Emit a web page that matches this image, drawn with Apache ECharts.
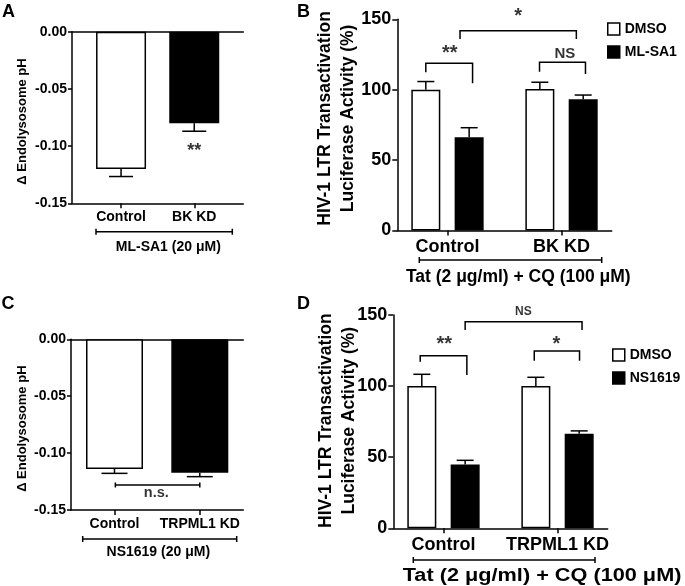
<!DOCTYPE html>
<html><head><meta charset="utf-8">
<script src="https://cdn.jsdelivr.net/npm/echarts@6/dist/echarts.min.js"></script>
<style>html,body{margin:0;padding:0;background:#fff}#c{width:685px;height:586px}</style>
</head><body><div id="c"></div>
<script>
// ---------- DATA ----------
// Panel A
const catsA = ['Control', 'BK KD'];
const phA = [-0.120, -0.080];
const semA = [0.0066, 0.0070];
// Panel B
const catsB = ['Control', 'BK KD'];
const dmsoB = [100, 100.5];
const dmsoSemB = [5.8, 4.8];
const mlsa1B = [66.2, 93.2];
const mlsa1SemB = [6.8, 3.0];
// Panel C
const catsC = ['Control', 'TRPML1 KD'];
const phC = [-0.1140, -0.1172];
const semC = [0.0038, 0.0035];
// Panel D
const catsD = ['Control', 'TRPML1 KD'];
const dmsoD = [100, 100];
const dmsoSemD = [8.3, 6.2];
const nsD = [44.8, 66.5];
const nsSemD = [3.0, 2.0];
// Axis ticks
const yTicksPH = [-0.15, -0.10, -0.05, 0.00];
const yTicksLuc = [0, 50, 100, 150];
// Significance annotations: [x1, x2, yTop, yLeftEnd, yRightEnd]
const bracketsB = [[0.81, 1.22, 118.8, 112.4, 104.5], [1.807, 2.21, 119.5, 112.8, 111.2], [1.11, 2.13, 141.9, 136, 136]];
const starsB = [{x: 1.02, y: 125.9, t: '**', s: 20}, {x: 2.03, y: 125.4, t: 'NS', s: 15}, {x: 1.62, y: 152.3, t: '*', s: 20}];
const bracketsD = [[0.796, 1.205, 121.4, 117.2, 107.8], [1.796, 2.193, 124.7, 117.9, 117.9], [1.19, 2.215, 145.3, 139.5, 139.5]];
const starsD = [{x: 1.006, y: 129.4, t: '**', s: 20}, {x: 1.99, y: 129.6, t: '*', s: 20}, {x: 1.70, y: 152.3, t: 'NS', s: 12}];
const starsA = [{x: 2, y: -0.1040, t: '**', s: 18}];
const nsBarC = [[1.01, 2.0, -0.128]];
const starsC = [{x: 1.49, y: -0.1353, t: 'n.s.', s: 14.5}];

// ---------- HELPERS ----------
const FONT = '"Liberation Sans", Arial, Helvetica, sans-serif';
const LW = 1.5;
const axisLineStyle = {color: '#000', width: LW};
const groupOffset = 0.19;

function errRender(capW) {
  return function (params, api) {
    const x = api.value(0), v = api.value(1), e = api.value(2);
    const s = v < 0 ? -1 : 1;
    const p1 = api.coord([x, v]);
    const p2 = api.coord([x, v + s * e]);
    return {type: 'group', children: [
      {type: 'line', shape: {x1: p1[0], y1: p1[1], x2: p2[0], y2: p2[1]}, style: {stroke: '#000', lineWidth: LW}},
      {type: 'line', shape: {x1: p2[0] - capW / 2, y1: p2[1], x2: p2[0] + capW / 2, y2: p2[1]}, style: {stroke: '#000', lineWidth: LW}}
    ]};
  };
}
function bracketRender(params, api) {
  const x1 = api.value(0), x2 = api.value(1), yt = api.value(2), yl = api.value(3), yr = api.value(4);
  const a = api.coord([x1, yl]), b = api.coord([x1, yt]), c = api.coord([x2, yt]), d = api.coord([x2, yr]);
  return {type: 'polyline', shape: {points: [a, b, c, d]}, style: {stroke: '#000', fill: 'none', lineWidth: LW}};
}
function flatBracketRender(params, api) {
  const a = api.coord([api.value(0), api.value(2)]), b = api.coord([api.value(1), api.value(2)]);
  const h = 2.5;
  return {type: 'group', children: [
    {type: 'line', shape: {x1: a[0], y1: a[1], x2: b[0], y2: b[1]}, style: {stroke: '#000', lineWidth: LW}},
    {type: 'line', shape: {x1: a[0], y1: a[1] - h, x2: a[0], y2: a[1] + h}, style: {stroke: '#000', lineWidth: LW}},
    {type: 'line', shape: {x1: b[0], y1: b[1] - h, x2: b[0], y2: b[1] + h}, style: {stroke: '#000', lineWidth: LW}}
  ]};
}
function textSeries(gi, arr) {
  return {type: 'scatter', xAxisIndex: gi.x, yAxisIndex: gi.y, symbolSize: 0, clip: false, silent: true, z: 5,
    data: arr.map(o => ({value: [o.x, o.y], label: {show: true, position: 'inside', formatter: o.t, fontSize: o.s,
      fontWeight: 'bold', fontFamily: FONT, color: '#000'}}))};
}
function yAxisDef(grid, min, max, interval, fs, fmt, name, gap, pad, lh) {
  return {gridIndex: grid, type: 'value', min: min, max: max, interval: interval,
    axisLine: {show: true, onZero: false, lineStyle: axisLineStyle},
    axisTick: {show: true, length: fs > 15 ? 5 : 4, lineStyle: axisLineStyle},
    axisLabel: {fontSize: fs, fontWeight: 'bold', fontFamily: FONT, color: '#000', margin: fs > 15 ? 6 : 5, formatter: fmt},
    splitLine: {show: false},
    name: name, nameLocation: 'middle', nameGap: gap, nameRotate: 90, nameMoveOverlap: false,
    nameTextStyle: {fontSize: fs > 15 ? 17.5 : 13, fontWeight: 'bold', fontFamily: FONT, color: '#000', lineHeight: lh, padding: pad}};
}
function xAxisDef(grid, min, max, cats, fs, margin, pos, showTicks) {
  return {gridIndex: grid, type: 'value', min: min, max: max, position: pos,
    axisLine: {show: true, onZero: false, lineStyle: axisLineStyle},
    axisTick: showTicks ? {show: true, length: 5, lineStyle: axisLineStyle, customValues: [1, 2]} : {show: false},
    axisLabel: showTicks ? {show: true, customValues: [1, 2], formatter: v => cats[Math.round(v) - 1] || '',
      fontSize: fs, fontWeight: 'bold', fontFamily: FONT, color: '#000', margin: margin} : {show: false},
    splitLine: {show: false}};
}
const fmtPH = v => v.toFixed(2);
const fmtLuc = v => String(Math.round(v));

const barBase = {type: 'bar', barGap: '-100%', itemStyle: {borderColor: '#000', borderWidth: LW}};

const option = {
  animation: false,
  backgroundColor: '#fff',
  grid: [
    {left: 72, top: 31.7, width: 171.3, height: 171.6},
    {left: 397.3, top: 19.3, width: 214.4, height: 211.2},
    {left: 71, top: 339.3, width: 172.3, height: 170.7},
    {left: 393.3, top: 315, width: 214.4, height: 213.3}
  ],
  xAxis: [
    xAxisDef(0, 0.33, 2.67, catsA, 14, 7, 'bottom', true),   // 0
    xAxisDef(0, 0.33, 2.67, catsA, 14, 7, 'top', false),     // 1
    xAxisDef(1, 0.56, 2.44, catsB, 18, 8, 'bottom', true),   // 2
    xAxisDef(2, 0.49, 2.51, catsC, 14, 7, 'bottom', true),   // 3
    xAxisDef(2, 0.49, 2.51, catsC, 14, 7, 'top', false),     // 4
    xAxisDef(3, 0.56, 2.44, catsD, 18, 8, 'bottom', true)    // 5
  ],
  yAxis: [
    yAxisDef(0, yTicksPH[0], yTicksPH[3], 0.05, 14, fmtPH, 'Δ Endolysosome pH', 42, [0, 8, 0, 0], 16),
    yAxisDef(1, yTicksLuc[0], yTicksLuc[3], 50, 18, fmtLuc, 'HIV-1 LTR Transactivation\nLuciferase Activity (%)', 38, [0, 0, 0, 13], 23),
    yAxisDef(2, yTicksPH[0], yTicksPH[3], 0.05, 14, fmtPH, 'Δ Endolysosome pH', 41, [0, 8, 0, 0], 16),
    yAxisDef(3, yTicksLuc[0], yTicksLuc[3], 50, 18, fmtLuc, 'HIV-1 LTR Transactivation\nLuciferase Activity (%)', 32.5, [0, 0, 0, 2], 23)
  ],
  legend: [
    {orient: 'vertical', left: 607, top: 22, padding: 0, itemWidth: 12, itemHeight: 12, itemGap: 9, icon: 'rect',
      selectedMode: false, data: ['DMSO', 'ML-SA1'],
      itemStyle: {borderColor: '#000', borderWidth: LW},
      textStyle: {fontSize: 14, fontWeight: 'bold', fontFamily: FONT, color: '#000'}},
    {orient: 'vertical', left: 612, top: 348, padding: 0, itemWidth: 12, itemHeight: 12, itemGap: 9, icon: 'rect',
      selectedMode: false, data: ['DMSO', 'NS1619'],
      itemStyle: {borderColor: '#000', borderWidth: LW},
      textStyle: {fontSize: 14, fontWeight: 'bold', fontFamily: FONT, color: '#000'}}
  ],
  series: [
    // Panel A
    Object.assign({}, barBase, {name: 'A', xAxisIndex: 0, yAxisIndex: 0, barWidth: 50,
      data: phA.map((v, i) => ({value: [i + 1, v], itemStyle: {color: i === 0 ? '#fff' : '#000'}}))}),
    {type: 'custom', xAxisIndex: 0, yAxisIndex: 0, renderItem: errRender(24), encode: {x: 0, y: 1}, z: 3,
      data: phA.map((v, i) => [i + 1, v, semA[i]])},
    textSeries({x: 0, y: 0}, starsA),
    // Panel B
    Object.assign({}, barBase, {name: 'DMSO', xAxisIndex: 2, yAxisIndex: 1, barWidth: 29, itemStyle: {color: '#fff', borderColor: '#000', borderWidth: LW},
      data: dmsoB.map((v, i) => [i + 1 - groupOffset, v])}),
    Object.assign({}, barBase, {name: 'ML-SA1', xAxisIndex: 2, yAxisIndex: 1, barWidth: 29, itemStyle: {color: '#000', borderColor: '#000', borderWidth: LW},
      data: mlsa1B.map((v, i) => [i + 1 + groupOffset, v])}),
    {type: 'custom', xAxisIndex: 2, yAxisIndex: 1, renderItem: errRender(17), encode: {x: 0, y: 1}, z: 3,
      data: dmsoB.map((v, i) => [i + 1 - groupOffset, v, dmsoSemB[i]]).concat(mlsa1B.map((v, i) => [i + 1 + groupOffset, v, mlsa1SemB[i]]))},
    {type: 'custom', xAxisIndex: 2, yAxisIndex: 1, renderItem: bracketRender, encode: {x: [0, 1], y: [2, 3, 4]}, z: 4, clip: false,
      data: bracketsB},
    textSeries({x: 2, y: 1}, starsB),
    // Panel C
    Object.assign({}, barBase, {name: 'C', xAxisIndex: 3, yAxisIndex: 2, barWidth: 57,
      data: phC.map((v, i) => ({value: [i + 1, v], itemStyle: {color: i === 0 ? '#fff' : '#000'}}))}),
    {type: 'custom', xAxisIndex: 3, yAxisIndex: 2, renderItem: errRender(26), encode: {x: 0, y: 1}, z: 3,
      data: phC.map((v, i) => [i + 1, v, semC[i]])},
    {type: 'custom', xAxisIndex: 3, yAxisIndex: 2, renderItem: flatBracketRender, encode: {x: [0, 1], y: 2}, z: 4,
      data: nsBarC},
    textSeries({x: 3, y: 2}, starsC),
    // Panel D
    Object.assign({}, barBase, {name: 'DMSO', xAxisIndex: 5, yAxisIndex: 3, barWidth: 29, itemStyle: {color: '#fff', borderColor: '#000', borderWidth: LW},
      data: dmsoD.map((v, i) => [i + 1 - groupOffset, v])}),
    Object.assign({}, barBase, {name: 'NS1619', xAxisIndex: 5, yAxisIndex: 3, barWidth: 29, itemStyle: {color: '#000', borderColor: '#000', borderWidth: LW},
      data: nsD.map((v, i) => [i + 1 + groupOffset, v])}),
    {type: 'custom', xAxisIndex: 5, yAxisIndex: 3, renderItem: errRender(17), encode: {x: 0, y: 1}, z: 3,
      data: dmsoD.map((v, i) => [i + 1 - groupOffset, v, dmsoSemD[i]]).concat(nsD.map((v, i) => [i + 1 + groupOffset, v, nsSemD[i]]))},
    {type: 'custom', xAxisIndex: 5, yAxisIndex: 3, renderItem: bracketRender, encode: {x: [0, 1], y: [2, 3, 4]}, z: 4, clip: false,
      data: bracketsD},
    textSeries({x: 5, y: 3}, starsD)
  ],
  graphic: [
    // panel letters
    {type: 'text', x: 2, y: 12.5, style: {text: 'A', fontSize: 18, fontWeight: 'bold', fontFamily: FONT, fill: '#000', verticalAlign: 'middle'}},
    {type: 'text', x: 297, y: 12.5, style: {text: 'B', fontSize: 18, fontWeight: 'bold', fontFamily: FONT, fill: '#000', verticalAlign: 'middle'}},
    {type: 'text', x: 1.5, y: 304, style: {text: 'C', fontSize: 18, fontWeight: 'bold', fontFamily: FONT, fill: '#000', verticalAlign: 'middle'}},
    {type: 'text', x: 297, y: 304, style: {text: 'D', fontSize: 18, fontWeight: 'bold', fontFamily: FONT, fill: '#000', verticalAlign: 'middle'}},
    // treatment brackets + labels
    {type: 'polyline', shape: {points: [[96, 228.7], [96, 234.7], [96, 231.7], [232.3, 231.7], [232.3, 228.7], [232.3, 234.7]]}, style: {stroke: '#000', lineWidth: LW, fill: 'none'}},
    {type: 'text', x: 168.3, y: 247, style: {text: 'ML-SA1 (20 μM)', fontSize: 14, fontWeight: 'bold', fontFamily: FONT, fill: '#000', align: 'center', verticalAlign: 'middle'}},
    {type: 'polyline', shape: {points: [[419.3, 257], [419.3, 263], [419.3, 260], [601.7, 260], [601.7, 257], [601.7, 263]]}, style: {stroke: '#000', lineWidth: LW, fill: 'none'}},
    {type: 'text', x: 518.3, y: 277, style: {text: 'Tat (2 μg/ml) + CQ (100 μM)', fontSize: 17.5, fontWeight: 'bold', fontFamily: FONT, fill: '#000', align: 'center', verticalAlign: 'middle'}},
    {type: 'polyline', shape: {points: [[82.7, 536], [82.7, 542], [82.7, 539], [236.7, 539], [236.7, 536], [236.7, 542]]}, style: {stroke: '#000', lineWidth: LW, fill: 'none'}},
    {type: 'text', x: 158.3, y: 552, style: {text: 'NS1619 (20 μM)', fontSize: 14, fontWeight: 'bold', fontFamily: FONT, fill: '#000', align: 'center', verticalAlign: 'middle'}},
    {type: 'polyline', shape: {points: [[413.3, 557], [413.3, 563], [413.3, 560], [595, 560], [595, 557], [595, 563]]}, style: {stroke: '#000', lineWidth: LW, fill: 'none'}},
    {type: 'text', x: 402.7, y: 576, scaleX: 1.24, style: {text: 'Tat (2 μg/ml) + CQ (100 μM)', fontSize: 17.5, fontWeight: 'bold', fontFamily: FONT, fill: '#000', align: 'left', verticalAlign: 'middle'}}
  ]
};

const chart = echarts.init(document.getElementById('c'), null, {renderer: 'canvas'});
chart.setOption(option);
</script>
</body></html>
